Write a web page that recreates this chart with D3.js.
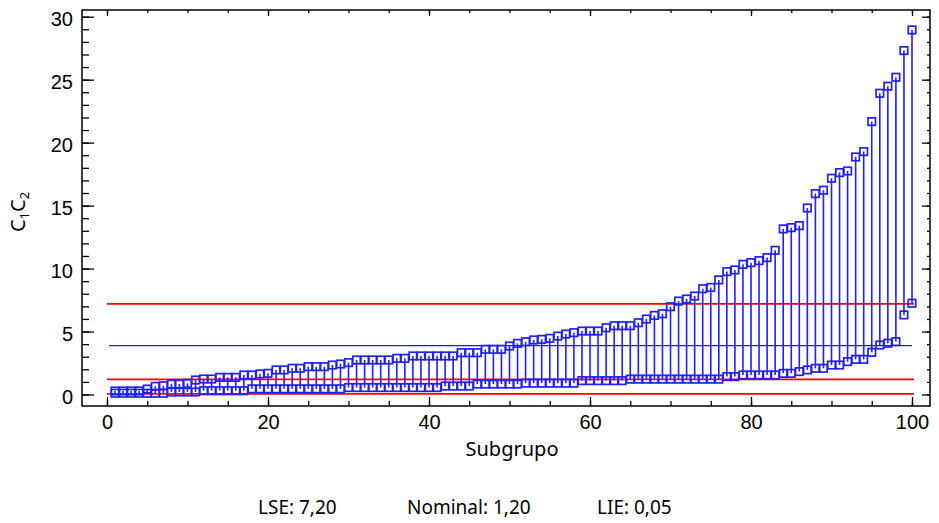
<!DOCTYPE html>
<html>
<head>
<meta charset="utf-8">
<script src="https://cdn.jsdelivr.net/npm/d3@7.9.0/dist/d3.min.js"></script>
<style>
  html, body { margin: 0; padding: 0; background: #fff; }
  svg { display: block; font-family: "Noto Sans", "Open Sans", sans-serif; }
</style>
</head>
<body>
<svg id="chart" width="939" height="523"></svg>
<script>
// Subgroup numbers (x axis categories)
const subgroups = d3.range(1, 101);

// Upper value of each subgroup
const upperValues = [
  0.28, 0.28, 0.28, 0.28, 0.43, 0.65, 0.70, 0.83, 0.83, 0.88,
  1.15, 1.23, 1.23, 1.36, 1.36, 1.36, 1.55, 1.55, 1.63, 1.68,
  1.95, 1.95, 2.08, 2.08, 2.21, 2.21, 2.21, 2.34, 2.42, 2.53,
  2.74, 2.74, 2.74, 2.74, 2.74, 2.87, 2.87, 3.06, 3.06, 3.06,
  3.06, 3.06, 3.06, 3.32, 3.32, 3.32, 3.59, 3.59, 3.59, 3.85,
  4.06, 4.19, 4.33, 4.38, 4.46, 4.64, 4.80, 4.91, 5.04, 5.04,
  5.04, 5.30, 5.46, 5.46, 5.46, 5.70, 5.99, 6.28, 6.41, 6.97,
  7.42, 7.58, 7.82, 8.40, 8.50, 9.10, 9.76, 9.89, 10.34, 10.47,
  10.63, 10.87, 11.45, 13.15, 13.25, 13.41, 14.81, 15.95, 16.22, 17.17,
  17.62, 17.75, 18.86, 19.29, 21.67, 23.92, 24.48, 25.19, 27.31, 28.95
];

// Lower value of each subgroup
const lowerValues = [
  0.10, 0.10, 0.10, 0.10, 0.10, 0.10, 0.10, 0.20, 0.20, 0.20,
  0.20, 0.30, 0.30, 0.30, 0.30, 0.30, 0.30, 0.45, 0.45, 0.45,
  0.45, 0.45, 0.45, 0.45, 0.45, 0.45, 0.45, 0.45, 0.45, 0.55,
  0.55, 0.55, 0.55, 0.55, 0.55, 0.55, 0.55, 0.55, 0.55, 0.55,
  0.55, 0.67, 0.67, 0.67, 0.67, 0.83, 0.83, 0.83, 0.83, 0.83,
  0.83, 0.90, 0.90, 0.90, 0.90, 0.90, 0.90, 0.90, 1.10, 1.10,
  1.10, 1.10, 1.10, 1.10, 1.22, 1.22, 1.22, 1.22, 1.22, 1.22,
  1.22, 1.22, 1.22, 1.22, 1.22, 1.22, 1.42, 1.42, 1.55, 1.55,
  1.55, 1.55, 1.55, 1.68, 1.68, 1.82, 1.95, 2.08, 2.08, 2.34,
  2.34, 2.61, 2.79, 2.79, 3.35, 3.93, 4.07, 4.20, 6.32, 7.25
];

// Specification limits (red lines) and centre line (blue)
const limitNames = ['LSE', 'Nominal', 'LIE'];
const limitValues = [7.20, 1.20, 0.05];
const centerValue = [3.88];

// Tick values
const xMajorTicks = [0, 20, 40, 60, 80, 100];
const xMinorTicks = [0, 5, 10, 15, 20, 25, 30, 35, 40, 45, 50, 55, 60, 65, 70, 75, 80, 85, 90, 95, 100];
const yMajorTicks = [0, 5, 10, 15, 20, 25, 30];
const yMinorTicks = d3.range(0, 31, 1);

const frame = { left: 82, right: 930, top: 10, bottom: 406 };
const blue = '#1f1fff';

const svg = d3.select('#chart');

const x = d3.scaleLinear().domain([0, 100]).range([107, 912]);
const y = d3.scaleLinear().domain([0, 30]).range([394.5, 16.7]);

// Axes with ticks pointing inward
function styleAxis(g) {
  g.select('.domain').remove();
  g.selectAll('.tick line').attr('stroke', '#000').attr('stroke-width', 1.3);
  g.selectAll('.tick text').attr('fill', '#000').attr('font-size', 20);
}

svg.append('g')
  .attr('transform', `translate(0,${frame.bottom})`)
  .call(d3.axisBottom(x).tickValues(xMinorTicks).tickSize(-5).tickFormat(''))
  .call(styleAxis);
svg.append('g')
  .attr('transform', `translate(0,${frame.bottom})`)
  .call(d3.axisBottom(x).tickValues(xMajorTicks).tickSize(-9).tickPadding(9))
  .call(styleAxis);

svg.append('g')
  .attr('transform', `translate(0,${frame.top})`)
  .call(d3.axisTop(x).tickValues(xMinorTicks).tickSize(-3).tickFormat(''))
  .call(styleAxis);
svg.append('g')
  .attr('transform', `translate(0,${frame.top})`)
  .call(d3.axisTop(x).tickValues(xMajorTicks).tickSize(-6).tickFormat(''))
  .call(styleAxis);

svg.append('g')
  .attr('transform', `translate(${frame.left},0)`)
  .call(d3.axisLeft(y).tickValues(yMinorTicks).tickSize(-7).tickFormat(''))
  .call(styleAxis);
svg.append('g')
  .attr('transform', `translate(${frame.left},0)`)
  .call(d3.axisLeft(y).tickValues(yMajorTicks).tickSize(-12).tickPadding(9))
  .call(styleAxis)
  .call((g) => g.selectAll('.tick text').attr('dy', '0.45em'));

svg.append('g')
  .attr('transform', `translate(${frame.right},0)`)
  .call(d3.axisRight(y).tickValues(yMinorTicks).tickSize(-3).tickFormat(''))
  .call(styleAxis);
svg.append('g')
  .attr('transform', `translate(${frame.right},0)`)
  .call(d3.axisRight(y).tickValues(yMajorTicks).tickSize(-8).tickFormat(''))
  .call(styleAxis);

// Frame
svg.append('rect')
  .attr('x', frame.left)
  .attr('y', frame.top)
  .attr('width', frame.right - frame.left)
  .attr('height', frame.bottom - frame.top)
  .attr('fill', 'none')
  .attr('stroke', '#000')
  .attr('stroke-width', 1.5);

// Limit lines
svg.selectAll('line.limit')
  .data(limitValues)
  .join('line')
  .attr('class', 'limit')
  .attr('x1', x(0))
  .attr('x2', x(100) + 2)
  .attr('y1', (d) => y(d))
  .attr('y2', (d) => y(d))
  .attr('stroke', '#ff0000')
  .attr('stroke-width', 1.8);

// Centre line
svg.selectAll('line.center')
  .data(centerValue)
  .join('line')
  .attr('class', 'center')
  .attr('x1', x(0) + 2)
  .attr('x2', x(100))
  .attr('y1', (d) => y(d))
  .attr('y2', (d) => y(d))
  .attr('stroke', '#2020c0')
  .attr('stroke-width', 1.1);

// Stems from lower to upper value
svg.selectAll('line.stem')
  .data(subgroups)
  .join('line')
  .attr('class', 'stem')
  .attr('x1', (d) => x(d))
  .attr('x2', (d) => x(d))
  .attr('y1', (d, i) => y(lowerValues[i]))
  .attr('y2', (d, i) => y(upperValues[i]))
  .attr('stroke', blue)
  .attr('stroke-width', 1.6);

// Square markers
const size = 7.5;
[upperValues, lowerValues].forEach((values) => {
  svg.append('g')
    .selectAll('rect')
    .data(subgroups)
    .join('rect')
    .attr('x', (d) => x(d) - size / 2)
    .attr('y', (d, i) => y(values[i]) - size / 2)
    .attr('width', size)
    .attr('height', size)
    .attr('fill', 'none')
    .attr('stroke', blue)
    .attr('stroke-width', 1.7);
});

// Axis titles
svg.append('text')
  .attr('x', 512)
  .attr('y', 456)
  .attr('text-anchor', 'middle')
  .attr('font-size', 20)
  .text('Subgrupo');

const yTitle = svg.append('text')
  .attr('transform', 'translate(25,212) rotate(-90)')
  .attr('text-anchor', 'middle')
  .attr('font-size', 20);
yTitle.append('tspan').text('C');
yTitle.append('tspan').attr('font-size', 13).attr('dy', 4).text('1');
yTitle.append('tspan').attr('dy', -4).text('C');
yTitle.append('tspan').attr('font-size', 13).attr('dy', 4).text('2');

// Limit summary under the chart
const summaryX = [258, 407, 597];
const fmt = (v) => v.toFixed(2).replace('.', ',');
svg.selectAll('text.summary')
  .data(limitNames)
  .join('text')
  .attr('class', 'summary')
  .attr('x', (d, i) => summaryX[i])
  .attr('y', 514)
  .attr('font-size', 19)
  .text((d, i) => `${d}: ${fmt(limitValues[i])}`);
</script>
</body>
</html>
